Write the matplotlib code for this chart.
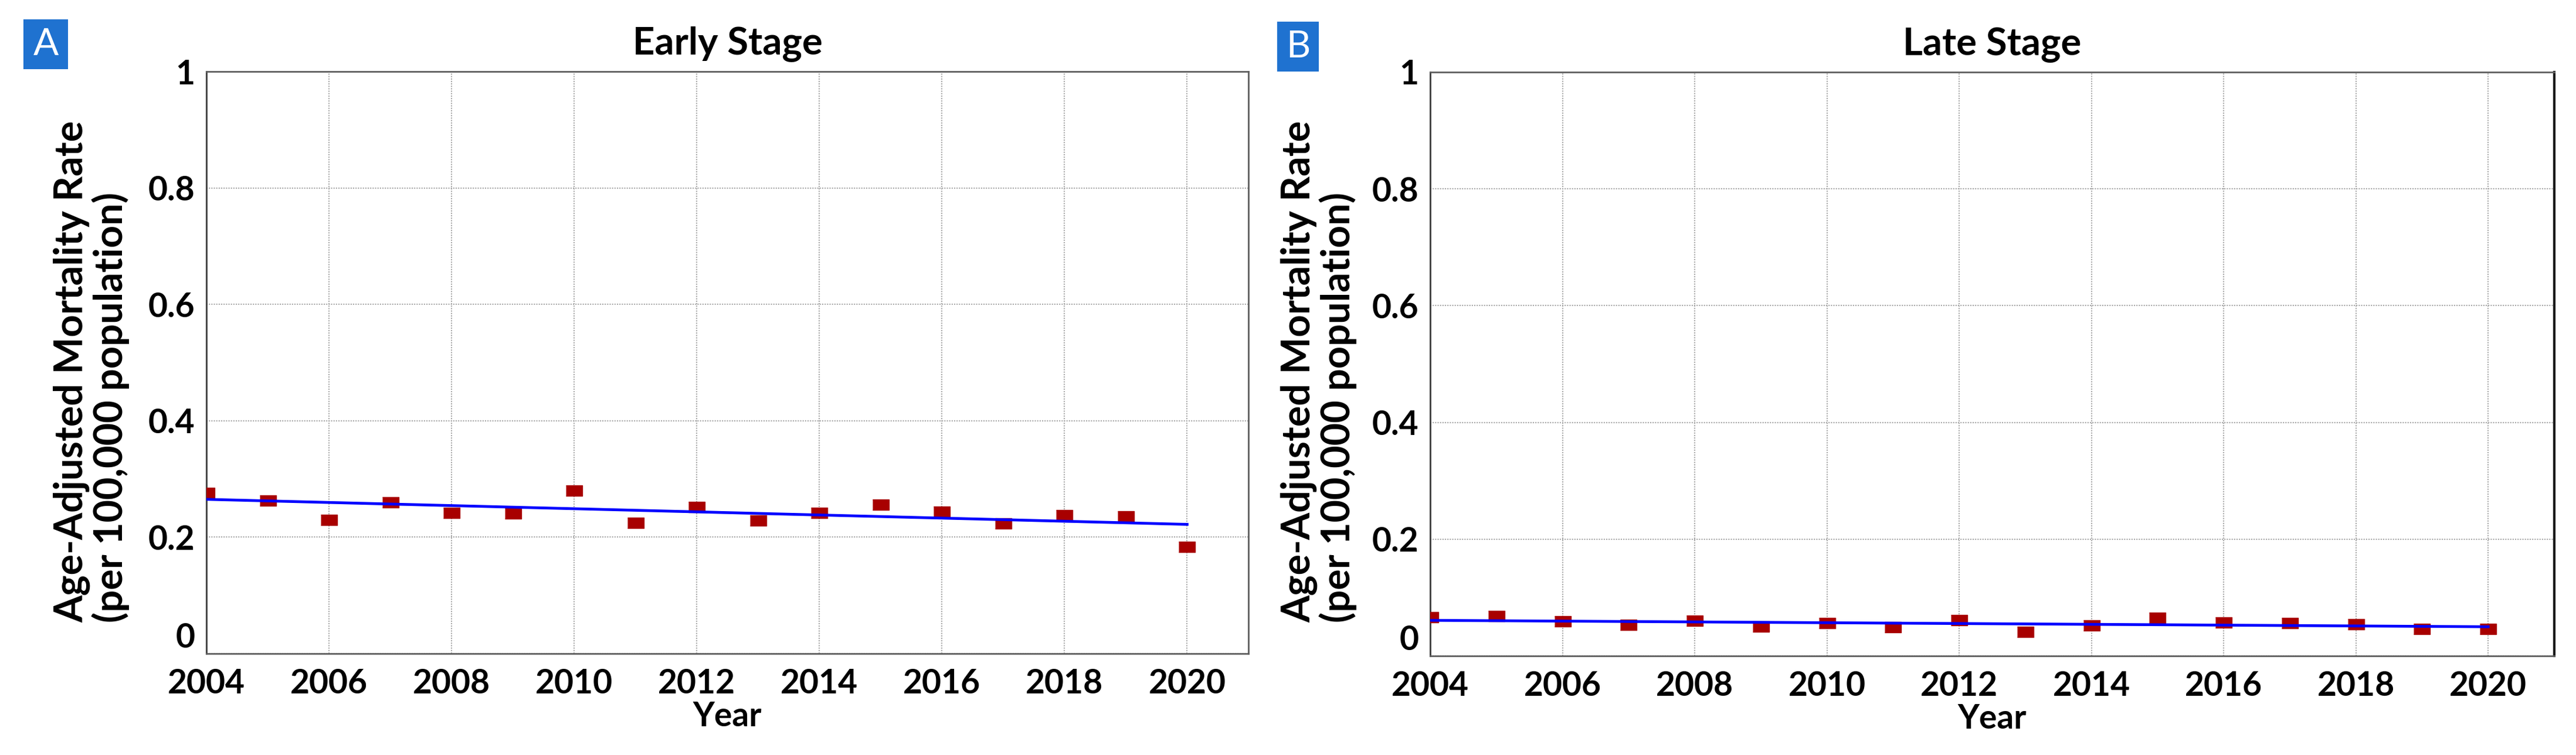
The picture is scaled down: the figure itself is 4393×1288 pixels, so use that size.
import matplotlib
matplotlib.use("Agg")
import matplotlib.pyplot as plt
from matplotlib.patches import Rectangle

plt.rcParams["font.family"] = ["Lato", "DejaVu Sans"]

# Data
years = [2004, 2005, 2006, 2007, 2008, 2009, 2010, 2011, 2012,
         2013, 2014, 2015, 2016, 2017, 2018, 2019, 2020]
early = [0.276, 0.263, 0.230, 0.260, 0.242, 0.241, 0.280, 0.225, 0.252,
         0.229, 0.242, 0.256, 0.244, 0.224, 0.238, 0.236, 0.183]
late = [0.066, 0.068, 0.059, 0.053, 0.060, 0.050, 0.056, 0.049, 0.061,
        0.041, 0.052, 0.065, 0.057, 0.056, 0.054, 0.046, 0.046]
trend_years = [2004, 2020]
early_trend = [0.265, 0.222]
late_trend = [0.061, 0.050]

xticks = [2004, 2006, 2008, 2010, 2012, 2014, 2016, 2018, 2020]
yticks = [0, 0.2, 0.4, 0.6, 0.8, 1]
ylabels = ["0", "0.2", "0.4", "0.6", "0.8", "1"]

titles = ["Early Stage", "Late Stage"]
panel_letters = ["A", "B"]

W, H = 4393, 1288
fig = plt.figure(figsize=(W / 100, H / 100), dpi=100)

def px_axes(left, right, top, bottom):
    return fig.add_axes([left / W, (H - bottom) / H, (right - left) / W, (bottom - top) / H])

axA = px_axes(352, 2129, 122, 1115)
axB = px_axes(2439, 4356, 123, 1119)

rect_marker = [(-1.45, -1), (1.45, -1), (1.45, 1), (-1.45, 1)]

for ax, vals, trend, title in zip([axA, axB], [early, late], [early_trend, late_trend], titles):
    ax.set_xlim(2004, 2021)
    ax.set_ylim(0, 1)
    ax.set_xticks(xticks)
    ax.set_xticklabels([str(x) for x in xticks])
    ax.set_yticks(yticks)
    ax.set_yticklabels(ylabels)
    ax.grid(True, color="#a8a8a8", linestyle=(0, (1, 1)), linewidth=1.5)
    ax.set_axisbelow(True)
    ax.tick_params(length=0, labelsize=41, pad=18)
    ax.tick_params(axis="y", pad=14)
    for lab in ax.get_xticklabels() + ax.get_yticklabels():
        lab.set_fontweight("bold")
    # zero label sits on the axis line, as in the original
    ax.get_yticklabels()[0].set_verticalalignment("bottom")
    for side in ["top", "bottom", "left", "right"]:
        ax.spines[side].set_color("#5e5e5e")
        ax.spines[side].set_linewidth(2.0)
    ax.spines["left"].set_color("#3a3a3a")

    ax.plot(years, vals, linestyle="none", marker=rect_marker, markersize=19.5,
            color="#a80000", zorder=3)
    ax.plot(trend_years, trend, color="#0000ff", linewidth=3.4, zorder=4)

    ax.text(0.5, 1.029, title, transform=ax.transAxes, ha="center", va="baseline",
            fontsize=47, fontweight="bold")
    ax.set_xlabel("Year", fontsize=41, fontweight="bold", labelpad=2)

axB.spines["right"].set_color("#1a1a1a")
axB.spines["right"].set_linewidth(3.0)

ylabel = "Age-Adjusted Mortality Rate\n(per 100,000 population)"
for xc in [156, 2249]:
    fig.text(xc / W, (H - 634) / H, ylabel, rotation=90, ha="center", va="center",
             multialignment="left", fontsize=48, fontweight="bold", linespacing=1.05)

# panel letters
for (x0, y0, x1, y1), letter in zip([(40, 33, 116, 118), (2178, 37, 2249, 122)], panel_letters):
    fig.patches.append(Rectangle((x0 / W, (H - y1) / H), (x1 - x0) / W, (y1 - y0) / H,
                                 transform=fig.transFigure, facecolor="#1f72d0",
                                 edgecolor="none"))
    fig.text((x0 + x1) / 2 / W, (H - (y0 + y1) / 2) / H, letter, color="white",
             ha="center", va="center", fontsize=46)

fig.savefig("out.png", dpi=100, facecolor="white")
